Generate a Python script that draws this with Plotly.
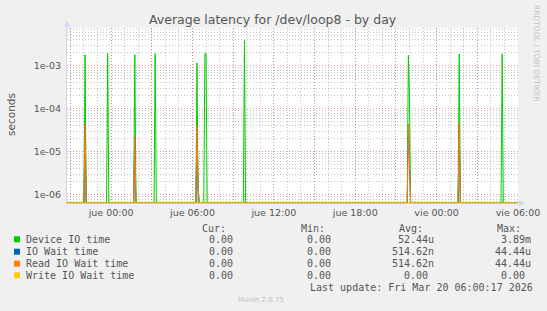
import pandas as pd
import plotly.graph_objects as go

# ---------------- data ----------------
TITLE = "Average latency for /dev/loop8 - by day"
Y_TITLE = "seconds"
X_START = "2026-03-18 20:45"
X_END = "2026-03-20 06:00"
STEP = "5min"

SERIES_NAMES = ["Device IO time", "IO Wait time", "Read IO Wait time", "Write IO Wait time"]
SERIES_COLORS = ["#00CC00", "#0066B3", "#FF8000", "#FFCC00"]

# non-zero 5-minute samples (seconds); every other sample is 0
device_io = {
    "2026-03-18 22:05": 1.83e-3,
    "2026-03-18 23:45": 1.93e-3,
    "2026-03-19 01:45": 1.83e-3,
    "2026-03-19 03:15": 1.93e-3,
    "2026-03-19 06:20": 1.17e-3,
    "2026-03-19 06:55": 1.93e-3,
    "2026-03-19 07:00": 1.93e-3,
    "2026-03-19 09:50": 3.89e-3,
    "2026-03-19 21:55": 1.74e-3,
    "2026-03-19 22:00": 1.96e-4,
    "2026-03-20 01:40": 1.90e-3,
    "2026-03-20 04:50": 1.90e-3,
}
io_wait = {
    "2026-03-18 22:05": 4.444e-5,
    "2026-03-19 01:45": 2.28e-5,
    "2026-03-19 06:20": 4.03e-5,
    "2026-03-19 06:25": 1.31e-6,
    "2026-03-19 21:55": 4.40e-5,
    "2026-03-19 22:00": 5.37e-6,
    "2026-03-20 01:40": 4.444e-5,
}
read_io_wait = dict(io_wait)
write_io_wait = {}

CUR_VALS = [0.0, 0.0, 0.0, 0.0]
MIN_VALS = [0.0, 0.0, 0.0, 0.0]
AVG_VALS = [52.44e-6, 514.62e-9, 514.62e-9, 0.0]
MAX_VALS = [3.89e-3, 44.44e-6, 44.44e-6, 0.0]
COL_HEADERS = ["Cur:", "Min:", "Avg:", "Max:"]

Y_RANGE_LOG = [-6.19, -2.12]
Y_TICKS = [1e-6, 1e-5, 1e-4, 1e-3]
Y_TICK_TEXT = ["1e-06", "1e-05", "1e-04", "1e-03"]
X_TICKS = ["2026-03-18 21:00", "2026-03-19 00:00", "2026-03-19 03:00", "2026-03-19 06:00",
           "2026-03-19 09:00", "2026-03-19 12:00", "2026-03-19 15:00", "2026-03-19 18:00",
           "2026-03-19 21:00", "2026-03-20 00:00", "2026-03-20 03:00", "2026-03-20 06:00"]
X_TICK_TEXT = ["", "jue 00:00", "", "jue 06:00", "", "jue 12:00", "", "jue 18:00",
               "", "vie 00:00", "", "vie 06:00"]
LAST_UPDATE = "Last update: Fri Mar 20 06:00:17 2026"
VERSION = "Munin 2.0.75"
WATERMARK = "RRDTOOL / TOBI OETIKER"

# ---------------- layout constants ----------------
W, H = 547, 311
L, R, T, B = 67, 518, 28, 203
NB = "\u00a0"
FONT = "DejaVu Sans"
MONO = "DejaVu Sans Mono"
TXT = "#555555"
GRID = "rgba(140,140,140,0.5)"
MGRID = "rgba(224,80,80,0.55)"
DASH = "1px,2px"


def px(x):
    return (x - L) / (R - L)


def py(y):
    return (B - y) / (B - T)


def rrd_fmt(v):
    if v == 0:
        s = "%6.2f " % 0.0
    else:
        for base, suf in [(1.0, " "), (1e-3, "m"), (1e-6, "u"), (1e-9, "n")]:
            if v >= base:
                s = "%6.2f%s" % (v / base, suf)
                break
    return s.replace(" ", NB)


times = pd.date_range(X_START, X_END, freq=STEP)
floor = 10 ** Y_RANGE_LOG[0]  # rrdtool draws zero at the bottom of a log graph

fig = go.Figure()
for name, color, d in zip(SERIES_NAMES, SERIES_COLORS,
                          [device_io, io_wait, read_io_wait, write_io_wait]):
    vals = [d.get(t.strftime("%Y-%m-%d %H:%M"), 0.0) for t in times]
    fig.add_trace(go.Scatter(
        x=times, y=[max(v, floor) for v in vals], mode="lines", name=name,
        line=dict(color=color, width=1), showlegend=False, hoverinfo="skip"))

minor_y = [k * 10.0 ** n for n in range(-7, -1) for k in range(2, 10)]
minor_x = list(pd.date_range("2026-03-18 21:00", X_END, freq="1h"))

fig.update_layout(
    width=W, height=H,
    margin=dict(l=L, r=W - R, t=T, b=H - B, autoexpand=False),
    paper_bgcolor="#F0F0F0", plot_bgcolor="#FFFFFF",
    font=dict(family=FONT, color=TXT, size=9),
    xaxis=dict(
        type="date", range=[X_START, X_END],
        tickmode="array", tickvals=X_TICKS, ticktext=X_TICK_TEXT,
        showgrid=True, gridcolor=MGRID, griddash=DASH, gridwidth=1,
        minor=dict(tickmode="array", tickvals=minor_x, showgrid=True,
                   gridcolor=GRID, griddash=DASH, gridwidth=1),
        showline=True, linecolor="#D8CB90", linewidth=1,
        ticks="", tickfont=dict(family=FONT, size=9.5, color=TXT),
        ticklabelstandoff=1,
        zeroline=False, fixedrange=True,
    ),
    yaxis=dict(
        type="log", range=Y_RANGE_LOG,
        tickmode="array", tickvals=Y_TICKS, ticktext=Y_TICK_TEXT,
        showgrid=True, gridcolor=MGRID, griddash=DASH, gridwidth=1,
        minor=dict(tickmode="array", tickvals=minor_y, showgrid=True,
                   gridcolor=GRID, griddash=DASH, gridwidth=1),
        showline=True, linecolor="#CFD6F8", linewidth=1,
        ticks="", tickfont=dict(family=FONT, size=9.5, color=TXT),
        ticklabelstandoff=3,
        zeroline=False, fixedrange=True,
    ),
)

ann = []
# title
ann.append(dict(text=TITLE, x=px(273), y=py(20), xanchor="center", yanchor="middle",
                font=dict(family=FONT, size=12.5, color=TXT)))
# y title
ann.append(dict(text=Y_TITLE, x=px(11), y=py(115), xanchor="center", yanchor="middle",
                textangle=-90, font=dict(family=FONT, size=10.5, color=TXT)))
# watermark
ann.append(dict(text=WATERMARK, x=px(537), y=py(53), xanchor="center", yanchor="middle",
                textangle=90, font=dict(family=FONT, size=7.5, color="#C4C4C4")))
# legend headers
for h, xl in zip(COL_HEADERS, [202, 300.7, 399, 496.7]):
    ann.append(dict(text=h, x=px(xl - 0.7), y=py(228), xanchor="left", yanchor="middle",
                    font=dict(family=MONO, size=10, color=TXT)))
row_y = [239.3, 251.7, 263.7, 275.3]
col_start = [196.7, 294.7, 392, 489]
for i, name in enumerate(SERIES_NAMES):
    ann.append(dict(text=name, x=px(26.3 - 0.9), y=py(row_y[i]), xanchor="left",
                    yanchor="middle", font=dict(family=MONO, size=10, color=TXT)))
    for cs, arr in zip(col_start, [CUR_VALS, MIN_VALS, AVG_VALS, MAX_VALS]):
        ann.append(dict(text=rrd_fmt(arr[i]), x=px(cs - 0.7), y=py(row_y[i]),
                        xanchor="left", yanchor="middle",
                        font=dict(family=MONO, size=10, color=TXT)))
ann.append(dict(text=LAST_UPDATE, x=px(534), y=py(287), xanchor="right", yanchor="middle",
                font=dict(family=MONO, size=10, color=TXT)))
ann.append(dict(text=VERSION, x=px(260.7), y=py(300), xanchor="center", yanchor="middle",
                font=dict(family=FONT, size=7, color="#BDBDBD")))
for a in ann:
    a.update(xref="paper", yref="paper", showarrow=False, borderpad=0)
fig.update_layout(annotations=ann)

shapes = []
# legend swatches
for i, c in enumerate(SERIES_COLORS):
    shapes.append(dict(type="rect", xref="paper", yref="paper",
                       x0=px(14), x1=px(20), y0=py(row_y[i] + 3), y1=py(row_y[i] - 3),
                       fillcolor=c, line=dict(width=0)))
# axis arrows
shapes.append(dict(type="path", xref="paper", yref="paper",
                   path="M %f,%f L %f,%f L %f,%f Z" % (px(64), py(26.5), px(70), py(26.5), px(67), py(21)),
                   fillcolor="#CFD6F8", line=dict(width=0)))
shapes.append(dict(type="path", xref="paper", yref="paper",
                   path="M %f,%f L %f,%f L %f,%f Z" % (px(519), py(200.5), px(519), py(206.5), px(524.5), py(203.5)),
                   fillcolor="#CFD6F8", line=dict(width=0)))
shapes.append(dict(type="line", xref="paper", yref="paper", x0=0, x1=0, y0=1, y1=py(26),
                   line=dict(color="#CFD6F8", width=1)))
fig.update_layout(shapes=shapes)

fig.write_html("out.html")
